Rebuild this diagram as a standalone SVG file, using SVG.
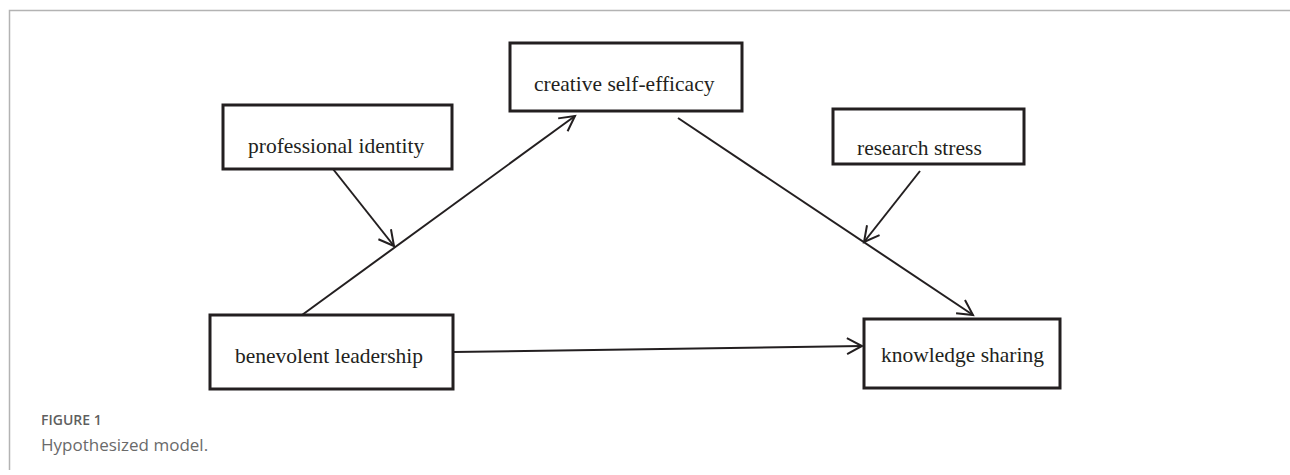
<svg xmlns="http://www.w3.org/2000/svg" width="1290" height="475" viewBox="0 0 1290 475">
<style>
.box{fill:#fff;stroke:#231f20;stroke-width:3}
.lbl{font-family:"Liberation Serif","Times New Roman",serif;font-size:21.5px;fill:#231f20}
.con{stroke:#231f20;stroke-width:2;fill:none;marker-end:url(#ah)}
.frame{stroke:#b3b3b3;stroke-width:1.5;fill:none}
.cap1{font-family:"Open Sans",sans-serif;font-size:14px;font-weight:600;fill:#5f5f5f}
.cap2{font-family:"Open Sans",sans-serif;font-size:17px;fill:#6a6a6a}
</style>
<defs>
<marker id="ah" markerUnits="userSpaceOnUse" markerWidth="30" markerHeight="30" viewBox="-20 -15 30 30" refX="0" refY="0" orient="auto">
<path d="M-15,-8 L0,0 L-15,8" fill="none" stroke="#231f20" stroke-width="2"/>
</marker>
</defs>
<path class="frame" d="M9.5,470 V10.5 H1290"/>
<g id="professional-identity">
<rect class="box" x="223" y="105" width="229" height="64"/>
<text class="lbl" x="248" y="153">professional identity</text>
</g>
<g id="creative-self-efficacy">
<rect class="box" x="510" y="43" width="232" height="68"/>
<text class="lbl" x="534" y="91">creative self-efficacy</text>
</g>
<g id="research-stress">
<rect class="box" x="833" y="109" width="191" height="55"/>
<text class="lbl" x="857" y="155">research stress</text>
</g>
<g id="benevolent-leadership">
<rect class="box" x="210" y="315" width="243" height="74"/>
<text class="lbl" x="235" y="363">benevolent leadership</text>
</g>
<g id="knowledge-sharing">
<rect class="box" x="864" y="319" width="196" height="69"/>
<text class="lbl" x="881" y="362">knowledge sharing</text>
</g>
<g id="connectors">
<line class="con" x1="302" y1="315" x2="575" y2="116"/>
<line class="con" x1="333" y1="169" x2="394" y2="246"/>
<line class="con" x1="678" y1="118" x2="973" y2="315"/>
<line class="con" x1="920" y1="171" x2="864" y2="242"/>
<line class="con" x1="453" y1="352" x2="862" y2="346"/>
</g>
<g id="caption">
<text class="cap1" x="41" y="425">FIGURE 1</text>
<text class="cap2" x="41" y="451">Hypothesized model.</text>
</g>
</svg>
